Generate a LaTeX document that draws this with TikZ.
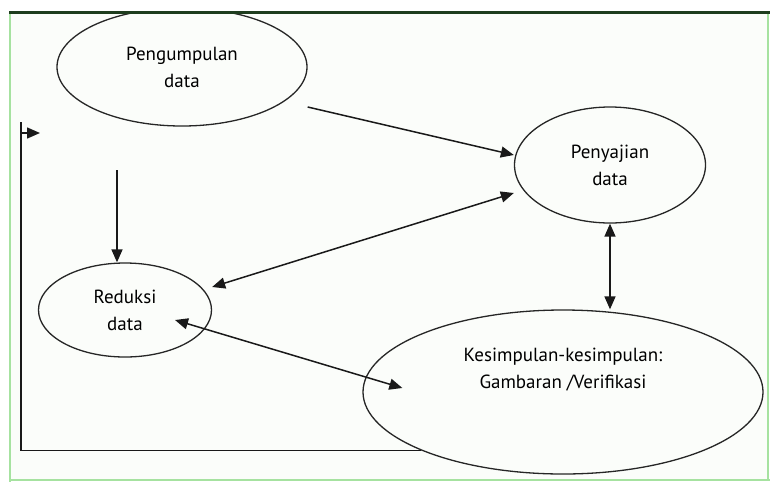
\documentclass[tikz,border=0pt]{standalone}
\usepackage{fontspec}
\setmainfont{PT Sans}
\usetikzlibrary{shapes.geometric,arrows.meta}
\definecolor{frameg}{HTML}{1E3D1E}
\definecolor{edgeg}{HTML}{A6E2A0}
\definecolor{bgg}{HTML}{FBFDFA}
\begin{document}
\begin{tikzpicture}[x=1pt,y=-1pt,
  oval/.style={ellipse, draw=black!85, line width=1.3pt, inner sep=0pt, align=center, font=\fontsize{19}{27}\selectfont},
  con/.style={line width=1.5pt, draw=black!90},
  tip/.style={-{Triangle[length=13pt,width=11pt]}},
  tips/.style={{Triangle[length=13pt,width=11pt]}-{Triangle[length=13pt,width=11pt]}}]
\useasboundingbox (0,0) rectangle (770,482);
\fill[white] (0,0) rectangle (770,482);
\fill[bgg] (10,12) rectangle (768,480);
\begin{scope}
\clip (10,12) rectangle (768,480);
\node[oval, minimum width=250pt, minimum height=118pt] (kpl) at (182,67){Pengumpulan\\data};
\node[oval, minimum width=191pt, minimum height=116pt] (saji) at (610,165){Penyajian\\data};
\node[oval, minimum width=173pt, minimum height=94pt] (red) at (125,310){Reduksi\\data};
\node[oval, minimum width=400pt, minimum height=164pt, label={[font=\fontsize{19}{27}\selectfont, align=center, yshift=22pt]center:Kesimpulan-kesimpulan:\\Gambaran /Verifikasi}] (simp) at (563,392){};
\coordinate (c0) at (117,170);
\coordinate (fb) at (21,122);
\coordinate (fa) at (21,133);
\draw[con, tip] ([yshift=-40pt]kpl.east) -- ([yshift=10pt]saji.west);
\draw[con, tip] (c0) -- ([xshift=-8pt]red.north);
\draw[con, tips] ([yshift=23pt]red.east) -- ([yshift=-28pt]saji.west);
\draw[con, tips] (saji.south) -- (saji.south |- simp.north);
\draw[con, tips] ([xshift=50pt,yshift=-10pt]red.center) -- ([xshift=40pt,yshift=4pt]simp.west);
\draw[con] (simp.south west) -| (fb);
\draw[con, tip] (fa) -- ([xshift=19pt]fa);
\end{scope}
\draw[edgeg, line width=2pt] (10,12) -- (10,482);
\draw[edgeg, line width=1.5pt] (10,480) -- (770,480);
\draw[edgeg, line width=1.5pt] (768,12) -- (768,480);
\draw[frameg, line width=3pt] (9,12) -- (770,12);
\end{tikzpicture}
\end{document}
